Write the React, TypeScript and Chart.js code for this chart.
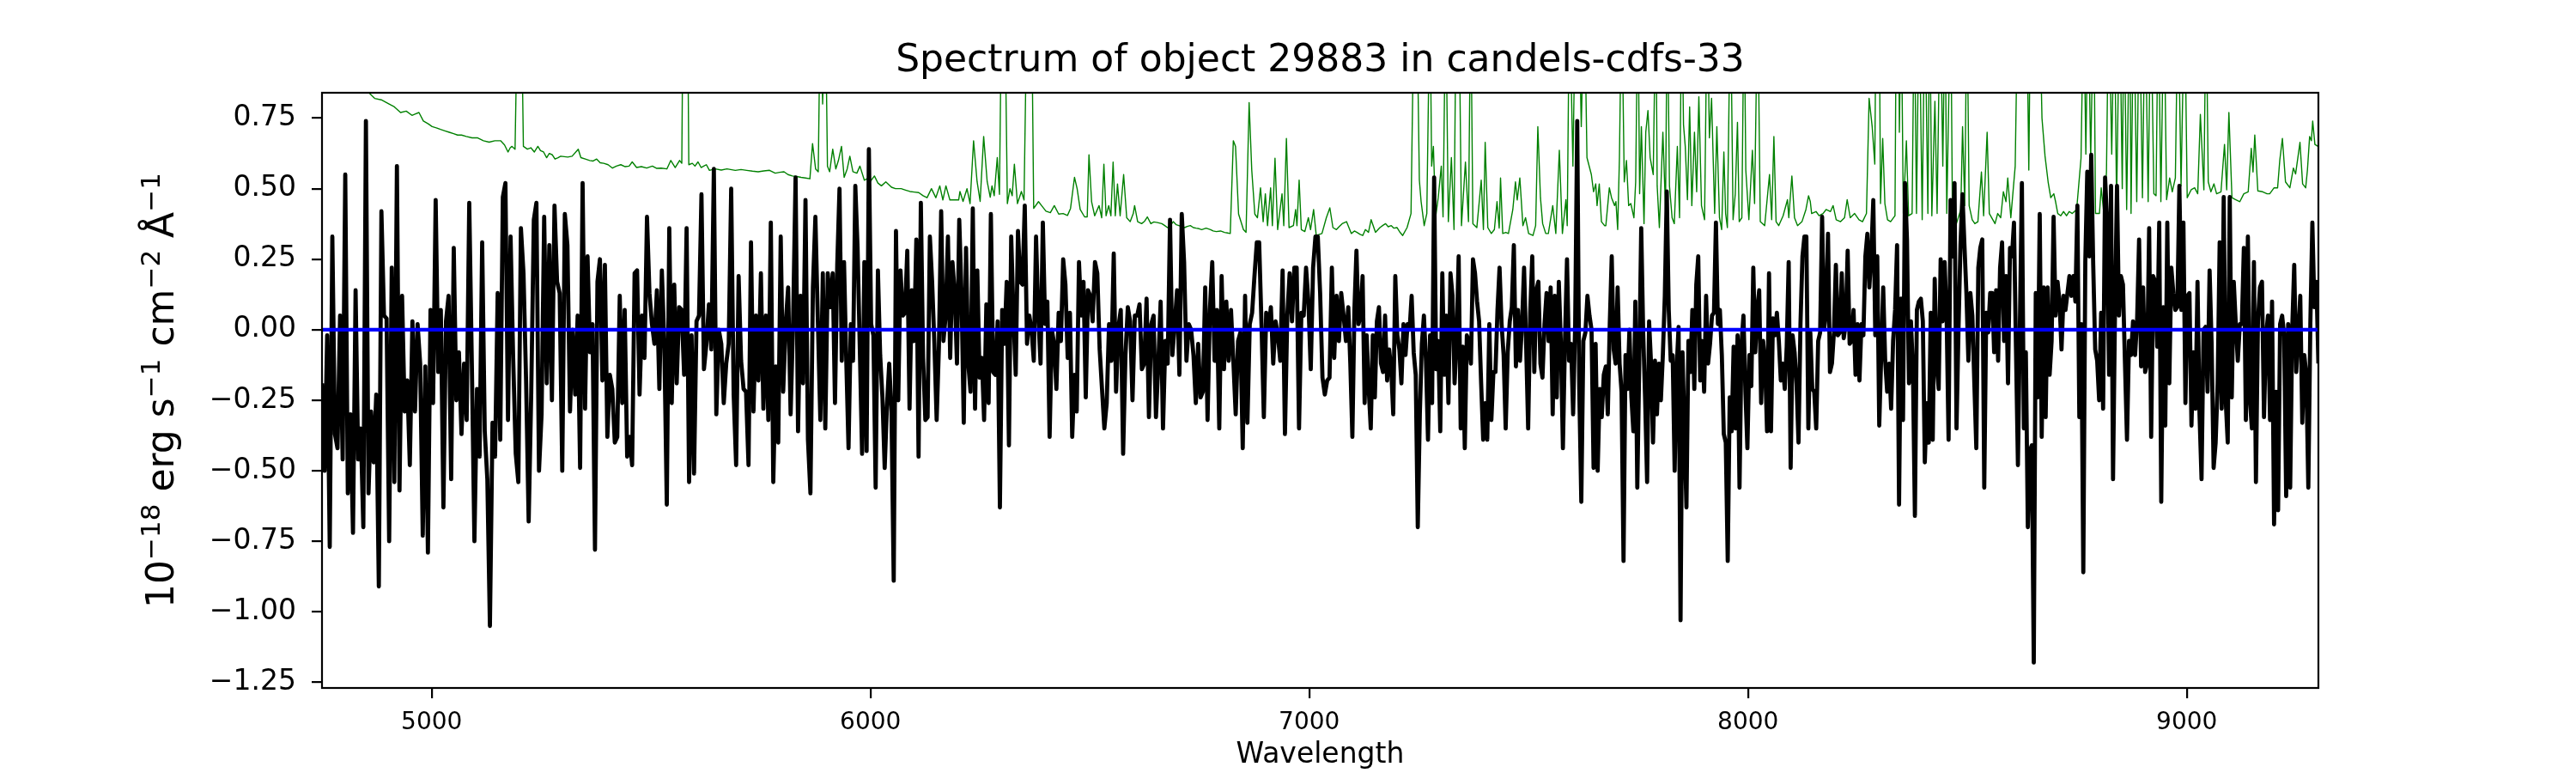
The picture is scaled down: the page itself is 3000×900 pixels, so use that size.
// App.tsx
import React, { useRef, useEffect } from 'react';
import { Chart, registerables } from 'chart.js';

Chart.register(...registerables);

const TITLE = 'Spectrum of object 29883 in candels-cdfs-33';
const X_LABEL = 'Wavelength';
// mathtext-like pieces of the y label: [text, superscript?]
const Y_LABEL_PARTS: [string, boolean][] = [
    ['10', false], ['\u221218', true], [' erg s', false], ['\u22121', true],
    [' cm', false], ['\u22122', true], [' \u00c5', false], ['\u22121', true],
];

const X_MIN = 4750;
const X_MAX = 9300;
const Y_MIN = -1.27;
const Y_MAX = 0.84;
const xTickValues = [5000, 6000, 7000, 8000, 9000];
const yTickValues = [-1.25, -1.0, -0.75, -0.5, -0.25, 0, 0.25, 0.5, 0.75];

// wavelength edges of the flux blocks below (values are spread evenly inside each block)
const segmentEdges = [4750, 5327, 5914, 6501, 7089, 7676, 8263, 8850, 9300];

const fluxA = [-0.19, -0.50, -0.02, -0.77, 0.33, -0.37, -0.42, 0.05, -0.46, 0.55, -0.58, -0.30, -0.72, 0.14, -0.46, -0.35, -0.70, 0.74, -0.58, -0.29, -0.47, -0.23, -0.91, 0.42, 0.05, 0.04, -0.75, 0.22, -0.54, 0.58, -0.57, 0.12, -0.29, -0.18, -0.48, 0.03, -0.29, 0.02, -0.12, -0.73, -0.13, -0.79, 0.07, -0.26, 0.46, -0.15, 0.07, -0.63, 0.03, 0.12, -0.53, 0.29, -0.25, -0.08, -0.37, -0.12, -0.32, 0.45, -0.12, -0.75, -0.21, -0.45, 0.31, -0.36, -0.53, -1.05, -0.33, -0.45, 0.13, -0.39, 0.47, 0.52, -0.32, 0.33, -0.10, -0.44, -0.54, 0.36, 0.20, -0.18, -0.68, -0.22, 0.39, 0.45, -0.50, -0.30, 0.40, -0.19, 0.30, -0.25, 0.44, 0.17, 0.13, -0.50, 0.41, 0.30, -0.29, 0.00];
const fluxB = [-0.23, 0.05, -0.49, 0.52, -0.28, 0.26, -0.08, 0.02, -0.78, 0.17, 0.25, -0.18, 0.23, -0.38, -0.16, -0.21, -0.40, -0.38, 0.12, -0.26, 0.07, -0.45, -0.38, -0.48, 0.20, 0.21, -0.23, 0.05, -0.10, 0.40, 0.13, 0.02, -0.05, 0.14, -0.21, 0.21, -0.05, -0.62, 0.36, -0.26, 0.16, -0.19, 0.08, 0.07, -0.16, 0.36, -0.54, -0.02, -0.51, 0.03, 0.05, 0.48, -0.14, -0.05, 0.09, -0.07, 0.57, -0.30, 0.00, -0.05, -0.26, -0.12, -0.05, 0.50, -0.23, -0.48, 0.19, -0.11, -0.21, -0.22, -0.48, 0.31, -0.29, 0.05, -0.18, 0.20, -0.28, 0.05, -0.32, 0.38, -0.54, -0.13, -0.40, 0.33, -0.22, 0.02, 0.15, -0.30, 0.03, 0.54, -0.36, 0.12, -0.19, 0.46, -0.39, -0.58, 0.15, 0.40, 0.03, -0.32, 0.20, -0.35, 0.20, 0.08];
const fluxC = [0.20, -0.26, 0.23, 0.50, -0.11, 0.24, -0.11, -0.42, 0.02, -0.11, 0.51, 0.29, -0.07, -0.44, 0.24, -0.43, 0.64, 0.02, -0.02, -0.56, 0.21, -0.09, -0.24, -0.49, -0.27, -0.12, -0.29, -0.89, 0.35, -0.25, 0.21, 0.05, 0.06, 0.28, -0.28, 0.14, -0.04, 0.32, -0.45, 0.45, -0.10, -0.32, -0.31, 0.33, 0.17, -0.05, -0.32, -0.06, 0.42, -0.04, 0.05, 0.33, -0.10, 0.24, 0.13, -0.12, 0.39, 0.13, -0.33, 0.29, -0.12, -0.22, 0.43, -0.28, 0.21, -0.17, -0.10, -0.32, 0.09, -0.26, 0.41, -0.15, -0.16, 0.03, -0.63, 0.07, -0.05, 0.17, -0.41, 0.33, 0.05, -0.16, 0.35, 0.17, 0.16, 0.44, -0.05, 0.05, 0.00, -0.11, 0.33, 0.05, -0.12, 0.38, 0.02, 0.10, -0.38, 0.00, -0.05, -0.21, 0.06, -0.04, 0.25, 0.16, -0.10, 0.06, -0.38, -0.16, -0.29, 0.24, 0.05, 0.17, -0.24, 0.14];
const fluxD = [0.12, 0.03, 0.24, 0.20, -0.07, -0.21, -0.35, -0.26, 0.02, -0.11, 0.27, -0.22, 0.01, 0.07, -0.44, -0.09, 0.08, 0.03, -0.25, 0.05, 0.05, 0.09, -0.14, -0.12, 0.11, -0.31, 0.02, 0.05, -0.31, -0.12, 0.10, -0.35, -0.04, -0.12, 0.39, -0.09, 0.02, 0.14, -0.16, 0.41, 0.24, -0.11, 0.02, 0.00, -0.09, -0.26, -0.05, -0.24, -0.22, 0.15, -0.32, 0.07, 0.24, -0.11, 0.07, -0.35, 0.19, -0.14, 0.10, -0.11, 0.07, -0.11, -0.30, -0.04, -0.01, -0.42, 0.12, -0.33, 0.02, 0.06, 0.19, 0.31, 0.31, 0.02, -0.31, 0.06, 0.00, 0.08, -0.12, 0.03, -0.02, -0.11, 0.21, -0.37, 0.05, 0.20, 0.03, 0.22, 0.22, -0.35, 0.06, 0.05, 0.22, 0.10, -0.14, 0.22, 0.33, 0.33, 0.13, -0.17, -0.23, -0.18, -0.17, 0.22, -0.10, 0.12, -0.04, 0.13, 0.05, -0.04];
const fluxE = [0.08, -0.12, -0.38, 0.07, 0.28, 0.02, 0.05, 0.19, -0.26, -0.02, -0.21, -0.35, -0.02, -0.24, 0.03, 0.08, -0.12, -0.15, 0.05, -0.18, -0.07, -0.14, -0.30, 0.19, -0.02, -0.07, -0.19, 0.02, -0.09, 0.02, 0.00, 0.12, -0.08, -0.16, -0.70, -0.30, -0.05, 0.05, -0.11, -0.39, -0.02, -0.26, 0.54, -0.14, -0.04, -0.36, 0.20, -0.16, 0.05, -0.26, 0.20, 0.12, -0.19, -0.04, 0.26, -0.35, -0.06, -0.42, -0.02, -0.04, -0.12, 0.25, 0.20, 0.10, 0.03, -0.19, -0.39, -0.26, -0.39, 0.02, -0.32, -0.15, -0.15, 0.07, 0.22, 0.02, -0.09, -0.35, -0.08, 0.03, 0.08, 0.30, -0.13, 0.07, -0.11, 0.02, 0.22, -0.05, -0.35, 0.06, 0.26, -0.15, 0.14, 0.17, -0.12, -0.17, 0.02, 0.13, -0.04, 0.15, -0.30, 0.12, -0.24, 0.17, -0.05, -0.42, -0.04, 0.25, -0.11, -0.05, -0.30, 0.02, 0.74, -0.21, -0.61, -0.04, -0.01, 0.12, 0.05, 0.00, -0.49, -0.05, -0.50, -0.21, -0.31, -0.16];
const fluxF = [-0.13, -0.30, 0.02, 0.26, -0.07, -0.12, 0.15, -0.12, -0.22, -0.82, -0.09, -0.21, 0.00, -0.24, -0.36, 0.10, -0.56, -0.12, 0.36, -0.01, -0.25, -0.54, 0.03, -0.12, -0.40, -0.11, -0.30, -0.12, -0.25, -0.09, 0.12, 0.49, 0.07, -0.11, -0.09, -0.50, -0.14, 0.01, -1.03, -0.08, -0.36, -0.63, -0.04, -0.15, 0.07, -0.21, 0.16, 0.26, -0.18, -0.04, -0.22, 0.12, -0.12, -0.05, 0.05, 0.06, 0.38, 0.02, 0.07, -0.09, -0.37, -0.40, -0.82, -0.24, -0.36, -0.06, -0.35, -0.02, -0.56, -0.05, 0.05, -0.22, -0.42, -0.09, -0.20, 0.22, -0.08, 0.07, 0.14, -0.26, -0.04, -0.12, -0.36, 0.20, -0.36, 0.04, -0.02, 0.06, -0.04, -0.18, -0.12, -0.21, -0.06, 0.24, -0.49, -0.02, -0.08, -0.19, -0.40, 0.02, 0.26, 0.33, 0.33, -0.35, -0.01, -0.21, -0.22, -0.35, -0.04, -0.01, 0.40, 0.00, 0.06, 0.34, -0.15, -0.12, -0.01, 0.23, -0.02, -0.01, 0.20, -0.03, 0.02, 0.28, -0.05, -0.04, 0.07, -0.16, 0.02, -0.18, 0.02];
const fluxG = [-0.02, 0.26, 0.34, 0.15, 0.27, 0.46, -0.02, 0.26, -0.34, -0.09, 0.15, -0.11, -0.22, -0.12, -0.28, -0.04, 0.07, 0.30, -0.62, 0.11, -0.32, 0.52, 0.32, -0.19, 0.03, -0.14, -0.66, 0.07, 0.10, 0.11, 0.03, -0.47, -0.26, -0.40, 0.06, -0.39, 0.18, -0.12, -0.21, 0.25, 0.03, 0.24, 0.05, -0.39, 0.46, 0.26, 0.52, -0.35, 0.00, 0.30, 0.48, 0.30, 0.13, -0.11, 0.13, 0.05, -0.19, -0.42, 0.22, 0.29, 0.32, -0.56, 0.06, -0.01, 0.13, 0.13, -0.08, 0.14, -0.11, 0.22, 0.31, -0.04, 0.19, -0.19, 0.29, 0.26, 0.38, -0.06, -0.48, 0.02, 0.52, -0.35, -0.08, -0.70, -0.43, -0.41, -1.18, 0.13, -0.24, 0.41, -0.38, 0.15, -0.31, 0.15, -0.16, -0.04, 0.40, 0.05, 0.17, 0.10, -0.07, 0.12, 0.07, 0.13, 0.19, 0.12, 0.19, 0.10, 0.44, -0.31, 0.02, -0.86, 0.24, 0.56, 0.26, 0.62, 0.23, -0.07, -0.11, -0.25, 0.06, -0.28, 0.54, 0.38, -0.16, 0.51, -0.53, 0.07, 0.51, 0.05];
const fluxH = [0.19, 0.16, -0.12, -0.39, -0.04, -0.09, 0.03, -0.09, 0.03, 0.32, -0.13, 0.15, -0.15, -0.12, 0.36, -0.38, 0.19, 0.17, -0.06, 0.38, -0.61, 0.08, -0.34, 0.38, -0.19, 0.22, 0.13, 0.07, 0.08, 0.51, 0.07, 0.38, -0.26, 0.12, 0.13, -0.34, -0.08, -0.28, 0.17, -0.30, -0.53, 0.00, 0.01, -0.22, 0.21, -0.05, -0.49, -0.40, -0.19, 0.31, -0.28, 0.47, -0.25, -0.40, 0.47, -0.24, 0.17, 0.02, -0.11, 0.02, 0.02, 0.29, -0.32, 0.33, -0.25, -0.35, 0.24, -0.54, 0.03, 0.15, 0.17, -0.31, -0.02, 0.05, -0.32, 0.10, -0.69, -0.22, -0.64, 0.02, 0.05, -0.02, -0.59, 0.02, -0.56, 0.00, 0.23, -0.15, -0.02, 0.12, -0.33, -0.09, -0.16, -0.56, 0.02, 0.38, 0.08, 0.17, -0.12];

// noise / sky spectrum: [wavelength, value]; 1.2 means off the top of the plot
const skyA = [[4750, 1.05], [4780, 0.95], [4820, 0.89], [4845, 0.86], [4857, 0.84], [4870, 0.82], [4885, 0.815], [4903, 0.80], [4915, 0.79], [4929, 0.77], [4942, 0.775], [4955, 0.76], [4963, 0.765], [4971, 0.77], [4981, 0.74], [4992, 0.73], [5001, 0.72], [5012, 0.715], [5020, 0.71], [5030, 0.705], [5040, 0.70], [5050, 0.695], [5059, 0.69], [5068, 0.69], [5079, 0.685], [5092, 0.68], [5105, 0.68], [5118, 0.67], [5131, 0.665], [5144, 0.67], [5157, 0.67], [5166, 0.655], [5174, 0.63], [5179, 0.645], [5183, 0.65], [5190, 0.64], [5196, 1.2], [5204, 1.2], [5209, 0.65], [5218, 0.64], [5226, 0.645], [5234, 0.63], [5242, 0.65], [5248, 0.635], [5255, 0.63], [5262, 0.61], [5268, 0.625], [5275, 0.62], [5281, 0.605], [5288, 0.61], [5294, 0.615], [5310, 0.612], [5320, 0.615]];
const skyB = [[5334, 0.64], [5340, 0.61], [5350, 0.605], [5360, 0.60], [5368, 0.598], [5376, 0.605], [5384, 0.592], [5392, 0.59], [5402, 0.585], [5412, 0.573], [5421, 0.58], [5431, 0.585], [5441, 0.578], [5450, 0.58], [5457, 0.595], [5467, 0.575], [5478, 0.578], [5490, 0.573], [5503, 0.58], [5513, 0.572], [5523, 0.573], [5536, 0.57], [5545, 0.60], [5555, 0.575], [5565, 0.60], [5570, 0.59], [5573, 1.2], [5583, 1.2], [5586, 0.585], [5594, 0.59], [5600, 0.58], [5607, 0.595], [5614, 0.575], [5620, 0.58], [5626, 0.585], [5633, 0.565], [5646, 0.57], [5660, 0.566], [5673, 0.57], [5692, 0.565], [5705, 0.568], [5718, 0.565], [5731, 0.562], [5744, 0.56], [5757, 0.563], [5770, 0.565], [5783, 0.555], [5793, 0.558], [5803, 0.56], [5812, 0.55], [5822, 0.545], [5832, 0.543], [5842, 0.54], [5852, 0.538], [5862, 0.535], [5868, 0.66], [5875, 0.57], [5881, 0.56], [5886, 1.2], [5891, 0.8], [5897, 1.2], [5902, 0.58], [5907, 0.56]];
const skyC = [[5914, 0.64], [5921, 0.57], [5927, 0.60], [5934, 0.65], [5940, 0.54], [5947, 0.57], [5953, 0.615], [5960, 0.56], [5969, 0.555], [5976, 0.58], [5986, 0.53], [5992, 0.535], [5999, 0.524], [6009, 0.545], [6017, 0.52], [6025, 0.51], [6035, 0.524], [6048, 0.505], [6057, 0.50], [6070, 0.50], [6080, 0.495], [6090, 0.49], [6100, 0.488], [6110, 0.486], [6120, 0.475], [6129, 0.468], [6139, 0.50], [6149, 0.468], [6158, 0.51], [6165, 0.46], [6172, 0.51], [6181, 0.46], [6191, 0.46], [6201, 0.46], [6204, 0.49], [6211, 0.455], [6220, 0.50], [6227, 0.447], [6235, 0.67], [6243, 0.525], [6250, 0.455], [6258, 0.685], [6266, 0.525], [6273, 0.47], [6277, 0.51], [6282, 0.475], [6289, 0.61], [6294, 0.48], [6299, 1.2], [6306, 1.2], [6312, 0.447], [6318, 0.50], [6323, 0.475], [6328, 0.587], [6335, 0.447], [6344, 0.49], [6350, 0.46], [6357, 1.2], [6367, 1.2], [6372, 0.43], [6383, 0.454], [6390, 0.44], [6400, 0.42], [6410, 0.415], [6419, 0.44], [6429, 0.41], [6439, 0.412], [6449, 0.405], [6456, 0.43], [6465, 0.54], [6471, 0.50], [6478, 0.426], [6488, 0.40], [6494, 0.40], [6498, 0.62]];
const skyD = [[6504, 0.454], [6511, 0.404], [6521, 0.44], [6527, 0.397], [6532, 0.587], [6537, 0.404], [6543, 0.44], [6548, 0.404], [6553, 0.594], [6558, 0.404], [6563, 0.517], [6569, 0.404], [6577, 0.55], [6584, 0.397], [6592, 0.383], [6599, 0.412], [6602, 0.44], [6609, 0.383], [6618, 0.376], [6625, 0.385], [6631, 0.40], [6639, 0.376], [6646, 0.382], [6654, 0.38], [6664, 0.376], [6670, 0.37], [6677, 0.362], [6684, 0.37], [6690, 0.383], [6697, 0.372], [6703, 0.369], [6710, 0.365], [6716, 0.362], [6722, 0.366], [6729, 0.369], [6736, 0.362], [6742, 0.36], [6749, 0.358], [6755, 0.355], [6765, 0.36], [6775, 0.355], [6781, 0.35], [6788, 0.348], [6798, 0.35], [6807, 0.345], [6814, 0.343], [6820, 0.341], [6827, 0.67], [6832, 0.65], [6839, 0.41], [6843, 0.39], [6850, 0.355], [6856, 0.345], [6863, 0.805], [6869, 0.566], [6876, 0.41], [6882, 0.397], [6889, 0.503], [6895, 0.383], [6900, 0.482], [6905, 0.369], [6912, 0.503], [6916, 0.369], [6922, 0.608], [6928, 0.355], [6938, 0.482], [6942, 0.369], [6948, 0.678], [6954, 0.362], [6964, 0.369], [6969, 0.426], [6972, 0.369], [6977, 0.53], [6982, 0.355], [6990, 0.348], [6998, 0.397], [7003, 0.355], [7010, 0.426], [7016, 0.334], [7023, 0.338], [7029, 0.341], [7039, 0.397], [7047, 0.432], [7054, 0.362], [7062, 0.355], [7068, 0.365], [7075, 0.376], [7085, 0.383]];
const skyE = [[7096, 0.341], [7103, 0.35], [7109, 0.345], [7116, 0.338], [7122, 0.334], [7128, 0.355], [7135, 0.345], [7141, 0.39], [7151, 0.345], [7161, 0.362], [7168, 0.37], [7174, 0.376], [7180, 0.365], [7187, 0.369], [7193, 0.36], [7200, 0.362], [7207, 0.345], [7213, 0.334], [7223, 0.362], [7232, 0.412], [7239, 1.2], [7245, 1.2], [7251, 0.53], [7255, 0.454], [7262, 0.369], [7268, 0.412], [7275, 1.2], [7279, 0.58], [7283, 0.65], [7288, 0.397], [7294, 0.468], [7301, 0.58], [7305, 0.40], [7311, 1.2], [7317, 0.383], [7324, 0.61], [7330, 0.355], [7335, 1.2], [7341, 1.2], [7347, 0.369], [7356, 0.594], [7363, 0.383], [7368, 1.2], [7373, 0.376], [7382, 0.362], [7392, 0.53], [7397, 0.355], [7401, 0.664], [7407, 0.362], [7415, 0.341], [7422, 0.355], [7428, 0.454], [7433, 0.36], [7436, 0.538], [7441, 0.341], [7448, 0.345], [7454, 0.341], [7464, 0.426], [7470, 0.524], [7474, 0.46], [7480, 0.538], [7487, 0.369], [7493, 0.397], [7500, 0.341], [7510, 0.334], [7516, 0.369], [7521, 0.72], [7527, 0.468], [7532, 0.376], [7539, 0.341], [7545, 0.341], [7555, 0.44], [7562, 0.341], [7570, 0.636], [7577, 0.341], [7585, 0.461], [7588, 0.369], [7593, 1.2], [7601, 0.58], [7607, 1.2], [7614, 1.2], [7620, 0.72], [7627, 1.2], [7633, 0.61], [7643, 0.55], [7648, 0.489], [7653, 0.517], [7656, 0.44], [7661, 0.517], [7666, 0.383], [7673, 0.369]];
const skyF = [[7676, 0.369], [7684, 0.503], [7689, 0.468], [7696, 0.44], [7699, 0.454], [7703, 0.355], [7707, 0.61], [7712, 1.2], [7718, 0.524], [7723, 0.60], [7728, 0.44], [7733, 0.447], [7740, 0.397], [7744, 0.524], [7749, 1.2], [7753, 0.482], [7757, 0.72], [7763, 0.376], [7767, 0.70], [7772, 0.777], [7777, 0.61], [7784, 0.55], [7790, 1.2], [7793, 0.51], [7798, 0.362], [7806, 0.70], [7812, 0.426], [7816, 1.2], [7821, 0.51], [7827, 0.397], [7832, 0.376], [7839, 0.65], [7844, 0.397], [7849, 1.2], [7853, 0.727], [7857, 0.65], [7862, 0.461], [7867, 0.79], [7872, 0.44], [7878, 0.70], [7883, 0.489], [7888, 0.826], [7894, 0.44], [7901, 0.39], [7907, 1.2], [7912, 0.68], [7917, 0.82], [7924, 0.412], [7929, 0.72], [7935, 0.397], [7940, 0.355], [7945, 0.63], [7949, 0.412], [7953, 0.362], [7960, 1.2], [7966, 0.39], [7971, 0.482], [7976, 0.735], [7980, 0.383], [7986, 0.397], [7991, 1.2], [7995, 0.566], [8002, 0.39], [8010, 0.636], [8015, 0.447], [8022, 1.2], [8028, 0.383], [8038, 0.369], [8049, 0.55], [8054, 0.39], [8059, 0.685], [8064, 0.383], [8070, 0.369], [8080, 0.404], [8090, 0.461], [8093, 0.397], [8100, 0.545], [8106, 0.397], [8113, 0.369], [8123, 0.383], [8132, 0.426], [8138, 0.475], [8142, 0.454], [8145, 0.412], [8155, 0.419], [8162, 0.404], [8171, 0.412], [8178, 0.426], [8188, 0.419], [8194, 0.44], [8201, 0.39], [8211, 0.383], [8220, 0.397], [8226, 0.461], [8233, 0.397], [8243, 0.412], [8253, 0.39], [8261, 0.383]];
const skyG = [[8270, 0.412], [8276, 0.82], [8283, 0.72], [8289, 0.587], [8292, 1.2], [8299, 1.2], [8302, 0.447], [8307, 0.678], [8312, 0.447], [8318, 0.39], [8325, 0.383], [8335, 0.404], [8338, 1.2], [8343, 1.2], [8345, 0.70], [8349, 1.2], [8354, 0.412], [8361, 0.67], [8366, 0.404], [8374, 0.412], [8379, 1.2], [8384, 0.412], [8390, 1.2], [8397, 0.39], [8403, 1.2], [8410, 0.412], [8414, 1.2], [8419, 0.404], [8426, 0.81], [8431, 0.412], [8438, 1.2], [8444, 0.58], [8449, 1.2], [8453, 0.412], [8462, 1.2], [8466, 0.39], [8475, 0.376], [8485, 0.426], [8489, 0.72], [8494, 0.44], [8499, 1.2], [8504, 0.44], [8511, 0.39], [8517, 0.376], [8524, 0.383], [8532, 0.559], [8537, 0.404], [8545, 0.70], [8550, 0.412], [8563, 0.376], [8569, 0.412], [8576, 0.397], [8582, 0.489], [8588, 0.454], [8592, 0.538], [8599, 0.397], [8609, 0.58], [8615, 1.2], [8628, 1.2], [8635, 1.2], [8640, 0.566], [8644, 1.2], [8654, 1.2], [8664, 1.2], [8670, 0.75], [8677, 0.615], [8684, 0.524], [8690, 0.468], [8697, 0.482], [8701, 0.454], [8706, 0.412], [8713, 0.404], [8719, 0.419], [8726, 0.404], [8732, 0.419], [8739, 0.412], [8749, 0.426], [8759, 0.608], [8765, 1.2], [8770, 0.622], [8775, 1.2], [8781, 0.608], [8788, 1.2], [8792, 0.412], [8801, 0.412], [8805, 0.503], [8811, 0.412], [8817, 0.559], [8822, 1.2], [8829, 0.622], [8835, 1.2], [8840, 0.44], [8847, 1.2]];
const skyH = [[8853, 0.50], [8857, 1.2], [8863, 0.426], [8870, 1.2], [8873, 0.412], [8879, 1.2], [8886, 0.454], [8892, 1.2], [8899, 0.468], [8905, 1.2], [8912, 0.454], [8918, 1.2], [8925, 0.482], [8930, 0.475], [8935, 1.2], [8941, 0.454], [8948, 1.2], [8954, 0.461], [8961, 0.538], [8967, 0.489], [8974, 0.538], [8980, 1.2], [8987, 0.51], [8995, 1.2], [9001, 0.468], [9010, 0.496], [9018, 0.503], [9025, 0.482], [9031, 0.763], [9039, 0.496], [9044, 1.2], [9049, 0.524], [9055, 0.489], [9062, 0.517], [9068, 0.482], [9078, 0.489], [9086, 0.657], [9091, 0.496], [9096, 0.77], [9103, 0.468], [9111, 0.461], [9121, 0.454], [9130, 0.482], [9140, 0.489], [9147, 0.643], [9151, 0.559], [9155, 0.69], [9162, 0.492], [9173, 0.489], [9183, 0.482], [9189, 0.482], [9199, 0.503], [9207, 0.503], [9212, 0.601], [9218, 0.678], [9225, 0.524], [9235, 0.503], [9243, 0.573], [9248, 0.552], [9258, 0.664], [9264, 0.517], [9271, 0.503], [9275, 0.566], [9280, 0.685], [9284, 0.67], [9287, 0.74], [9292, 0.657], [9299, 0.65]];

const FONT = '"DejaVu Sans", sans-serif';

const fluxBlocks = [fluxA, fluxB, fluxC, fluxD, fluxE, fluxF, fluxG, fluxH];
const fluxPoints = fluxBlocks.flatMap((block, b) => {
    const lo = segmentEdges[b];
    const hi = segmentEdges[b + 1];
    const n = b === fluxBlocks.length - 1 ? block.length - 1 : block.length;
    return block.map((y, i) => ({ x: lo + (hi - lo) * i / n, y }));
});
const skyPoints = [skyA, skyB, skyC, skyD, skyE, skyF, skyG, skyH].flat().map(([x, y]) => ({ x, y }));
const zeroLine = [{ x: X_MIN, y: 0 }, { x: X_MAX, y: 0 }];

// frame, title and axis labels drawn by hand so they sit where matplotlib put them
const framePlugin = {
    id: 'frameAndLabels',
    afterDraw(chart: Chart) {
        const { ctx, chartArea } = chart;
        const { left, right, top, bottom } = chartArea;
        ctx.save();
        ctx.strokeStyle = '#000';
        ctx.lineWidth = 2.2;
        ctx.strokeRect(left, top, right - left, bottom - top);

        const cx = (left + right) / 2;
        ctx.fillStyle = '#000';
        ctx.textAlign = 'center';
        ctx.textBaseline = 'alphabetic';
        ctx.font = `44px ${FONT}`;
        ctx.fillText(TITLE, cx, top - 25);
        ctx.font = `33px ${FONT}`;
        ctx.fillText(X_LABEL, cx, 888);

        // y label, rotated, with superscripts
        const mainFont = `44px ${FONT}`;
        const supFont = `31px ${FONT}`;
        let total = 0;
        Y_LABEL_PARTS.forEach(([t, sup]) => {
            ctx.font = sup ? supFont : mainFont;
            total += ctx.measureText(t).width;
        });
        ctx.translate(202, (top + bottom) / 2);
        ctx.rotate(-Math.PI / 2);
        ctx.textAlign = 'left';
        let x = -total / 2;
        Y_LABEL_PARTS.forEach(([t, sup]) => {
            ctx.font = sup ? supFont : mainFont;
            ctx.fillText(t, x, sup ? -16 : 0);
            x += ctx.measureText(t).width;
        });
        ctx.restore();
    },
};

const SpectrumChart: React.FC = () => {
    const chartRef = useRef<HTMLCanvasElement>(null);

    useEffect(() => {
        if (!chartRef.current) return;
        document.body.style.margin = '0';

        const myChart = new Chart(chartRef.current, {
            type: 'line',
            data: {
                datasets: [
                    { data: zeroLine, borderColor: '#0000ff', borderWidth: 4.4 },
                    { data: fluxPoints, borderColor: '#000000', borderWidth: 4.8 },
                    { data: skyPoints, borderColor: '#008000', borderWidth: 1.4 },
                ],
            },
            options: {
                animation: false,
                responsive: false,
                devicePixelRatio: 1,
                layout: { padding: { top: 108, right: 300, bottom: 0, left: 0 } },
                elements: {
                    point: { radius: 0, hoverRadius: 0 },
                    line: { tension: 0, borderJoinStyle: 'round', fill: false },
                },
                plugins: {
                    legend: { display: false },
                    tooltip: { enabled: false },
                    title: { display: false },
                },
                events: [],
                scales: {
                    x: {
                        type: 'linear',
                        min: X_MIN,
                        max: X_MAX,
                        border: { display: false },
                        grid: { drawOnChartArea: false, drawTicks: true, tickLength: 12, color: '#000', lineWidth: 2.2 },
                        ticks: {
                            color: '#000',
                            padding: 12,
                            font: { family: FONT, size: 28 },
                            callback: (v: any) => String(v),
                        },
                        afterBuildTicks: (scale: any) => {
                            scale.ticks = xTickValues.map((value) => ({ value }));
                        },
                        afterFit: (scale: any) => { scale.height = 99; },
                    },
                    y: {
                        type: 'linear',
                        min: Y_MIN,
                        max: Y_MAX,
                        border: { display: false },
                        grid: { drawOnChartArea: false, drawTicks: true, tickLength: 12, color: '#000', lineWidth: 2.2 },
                        ticks: {
                            color: '#000',
                            padding: 18,
                            font: { family: FONT, size: 33 },
                            callback: (v: any) => {
                                const n = Number(v);
                                if (Math.abs(n) < 1e-9) return '0.00';
                                return n.toFixed(2).replace('-', '\u2212');
                            },
                        },
                        afterBuildTicks: (scale: any) => {
                            scale.ticks = yTickValues.map((value) => ({ value }));
                        },
                        afterFit: (scale: any) => { scale.width = 375; },
                    },
                },
            },
            plugins: [framePlugin],
        });

        return () => {
            myChart.destroy(); // Clean up
        };
    }, []);

    return (
        <div style={{ width: 3000, height: 900 }}>
            <canvas ref={chartRef} width={3000} height={900} style={{ width: 3000, height: 900 }} />
        </div>
    );
};

export default function App() {
    return <SpectrumChart />;
}
